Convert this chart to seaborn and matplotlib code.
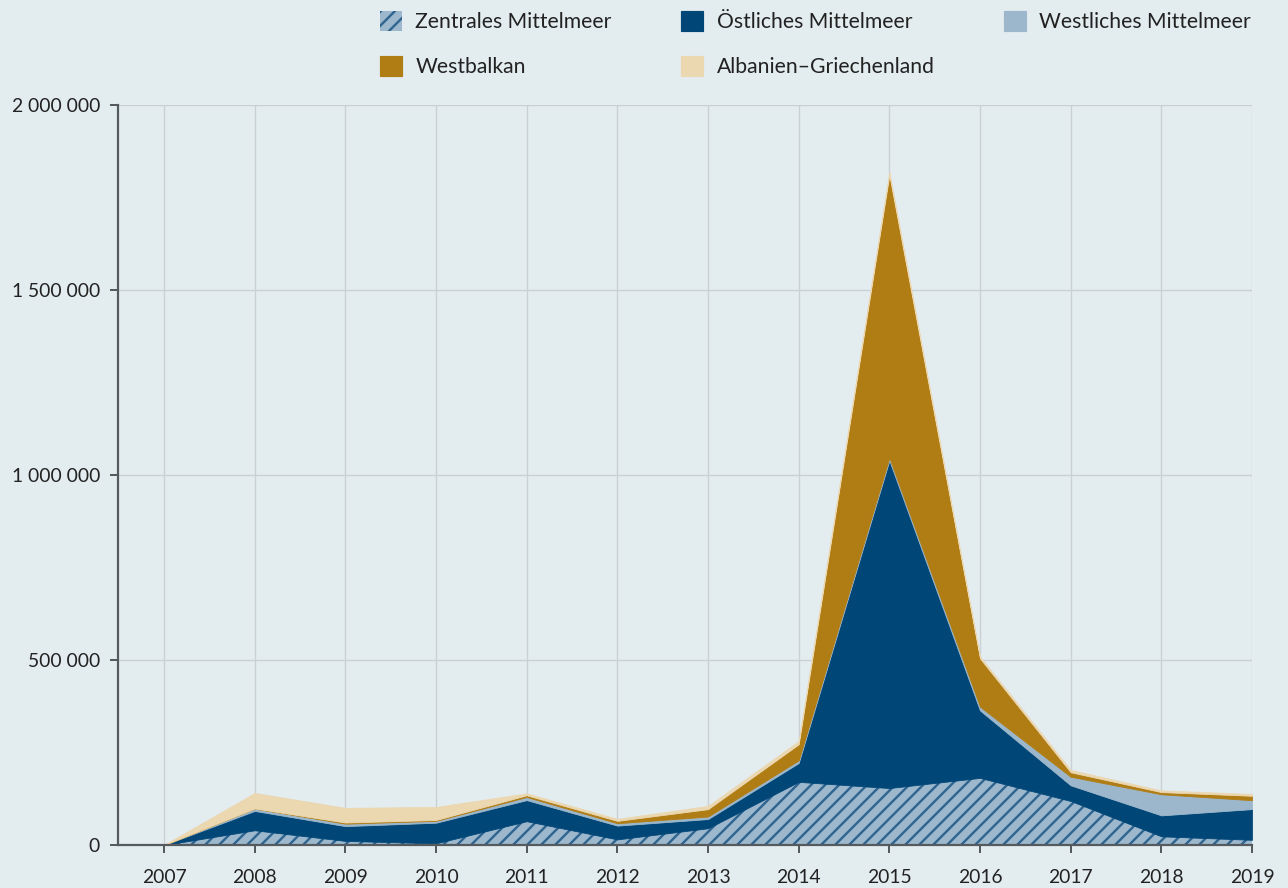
import matplotlib
matplotlib.use("Agg")
import matplotlib.pyplot as plt
import matplotlib.ticker as mticker
from matplotlib.patches import Patch
import seaborn as sns
import numpy as np

years = [2007, 2008, 2009, 2010, 2011, 2012, 2013, 2014, 2015, 2016, 2017, 2018, 2019]
zentrales = [0, 39800, 11043, 4500, 64300, 15151, 45298, 170664, 153946, 181376, 118962, 23485, 14000]
oestliches = [0, 52300, 39975, 55700, 57000, 37224, 24799, 50834, 885386, 182277, 42319, 56561, 83000]
westliches = [0, 6500, 6642, 5000, 8450, 6397, 6838, 7272, 7164, 10231, 23143, 57034, 24000]
westbalkan = [0, 0, 3089, 2371, 4658, 6391, 19951, 43357, 764038, 130325, 12179, 5869, 12000]
albanien = [0, 42000, 39604, 35300, 5269, 5502, 8728, 8841, 8932, 5121, 6396, 4550, 5000]

labels = ["Zentrales Mittelmeer", "Östliches Mittelmeer", "Westliches Mittelmeer",
          "Westbalkan", "Albanien–Griechenland"]
yticks = [0, 500000, 1000000, 1500000, 2000000]

bg = "#e3ecef"
c_zen = "#9db8cc"
c_hatch = "#2f6590"
c_oest = "#004677"
c_west = "#9cb7cb"
c_wb = "#b07c14"
c_alb = "#ebd7b0"

DPI = 84
W, H = 1288, 888


def pt(px):
    return px * 72.0 / DPI


sns.set_theme(style="white")
plt.rcParams["font.family"] = ["Lato", "DejaVu Sans"]
plt.rcParams["hatch.linewidth"] = pt(2.4)

fig = plt.figure(figsize=(W / DPI, H / DPI), dpi=DPI, facecolor=bg)
ax = fig.add_axes([118 / W, 1 - 845 / H, (1252 - 118) / W, (845 - 105) / H])
ax.set_facecolor(bg)

series = [zentrales, oestliches, westliches, westbalkan, albanien]
colors = [c_zen, c_oest, c_west, c_wb, c_alb]
x = np.array(years)
base = np.zeros(len(years))
for i, (s, col) in enumerate(zip(series, colors)):
    top = base + np.array(s)
    if i == 0:
        ax.fill_between(x, base, top, facecolor=col, edgecolor=c_hatch, hatch="//",
                        linewidth=0, zorder=2)
    else:
        ax.fill_between(x, base, top, facecolor=col, edgecolor=col,
                        linewidth=pt(0.8), zorder=2)
    base = top

ax.set_xlim(2007 - 46 / 90.67, 2019)
ax.set_ylim(0, 2000000)
ax.set_xticks(years)
ax.set_yticks(yticks)
ax.yaxis.set_major_formatter(mticker.FuncFormatter(lambda v, p: f"{int(v):,}".replace(",", " ")))

ax.grid(True, color="#c9d0d4", linewidth=pt(1.3))
ax.set_axisbelow(True)
for sp in ["top", "right"]:
    ax.spines[sp].set_visible(False)
for sp in ["left", "bottom"]:
    ax.spines[sp].set_color("#555a5e")
    ax.spines[sp].set_linewidth(pt(2.2))
    ax.spines[sp].set_zorder(5)
ax.tick_params(axis="both", which="major", length=pt(8), width=pt(2.0), color="#555a5e",
               labelsize=pt(19.2), labelcolor="#222222", direction="out")
ax.tick_params(axis="x", pad=pt(16), bottom=True)
ax.tick_params(axis="y", pad=pt(10), left=True)

handle_map = {
    labels[0]: Patch(facecolor=c_zen, edgecolor=c_hatch, hatch="//", linewidth=0),
    labels[1]: Patch(facecolor=c_oest, edgecolor=c_oest),
    labels[2]: Patch(facecolor=c_west, edgecolor=c_west),
    labels[3]: Patch(facecolor=c_wb, edgecolor=c_wb),
    labels[4]: Patch(facecolor=c_alb, edgecolor=c_alb),
}
# column-major order so rows read left to right
order = [labels[0], labels[3], labels[1], labels[4], labels[2]]
leg = fig.legend([handle_map[l] for l in order], order, ncol=3, loc="upper right",
                 bbox_to_anchor=(1270 / W, 1 + 8 / H),
                 frameon=False, fontsize=pt(21.1), handlelength=1.05, handleheight=1.05,
                 handletextpad=0.62, columnspacing=3.3, labelspacing=1.14)
for t in leg.get_texts():
    t.set_color("#222222")

fig.savefig("out.png", dpi=DPI, facecolor=bg)
